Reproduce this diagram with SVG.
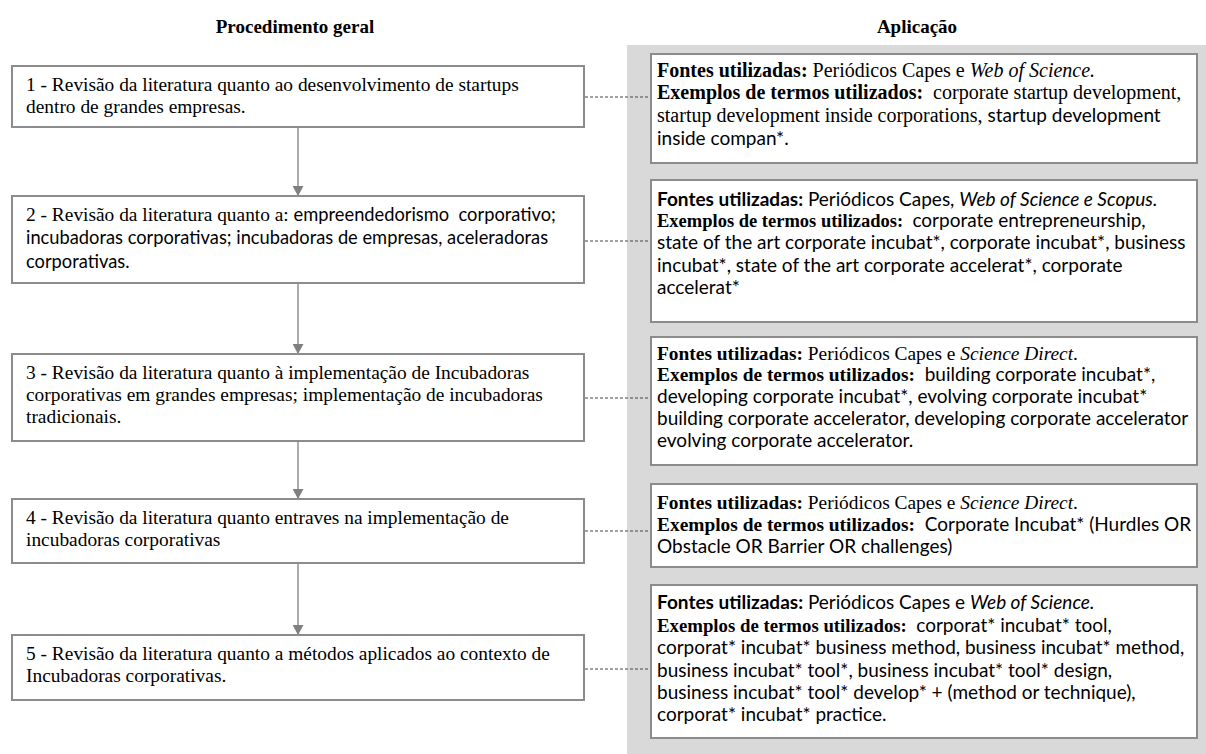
<svg xmlns="http://www.w3.org/2000/svg" width="1206" height="754" viewBox="0 0 1206 754">
<defs>
<style>
.bg{fill:#ffffff}
.panel{fill:#d9d9d9}
.box{fill:#ffffff;stroke:#8c8c8c;stroke-width:2}
.flow{stroke:#808080;stroke-width:1.3;fill:none}
.dash{stroke:#444444;stroke-width:1;stroke-dasharray:3 2;fill:none}
text{fill:#000000;font-size:19.4px;font-family:"Liberation Serif","Times New Roman",serif}
.title{font-weight:bold;font-size:19px;text-anchor:middle}
.r{font-size:20px}
.tb{font-weight:bold}
.ti{font-style:italic}
.c{font-family:Lato,"Liberation Sans",sans-serif;font-size:19px}
.cl{font-family:Lato,"Liberation Sans",sans-serif;font-size:18.3px}
.cb{font-family:Lato,"Liberation Sans",sans-serif;font-size:19px;font-weight:bold}
.ci{font-family:Lato,"Liberation Sans",sans-serif;font-size:19px;font-style:italic}
</style>
<marker id="tri" markerUnits="userSpaceOnUse" markerWidth="12" markerHeight="11" refX="11" refY="6" orient="auto" viewBox="0 0 12 12">
<path d="M0,0 L11,6 L0,12 Z" fill="#808080"/>
</marker>
</defs>
<rect class="bg" x="0" y="0" width="1206" height="754"/>
<text class="title" x="295" y="33">Procedimento geral</text>
<text class="title" x="917" y="33">Aplicação</text>
<rect class="panel" x="627" y="45" width="579" height="709"/>

<g id="connectors">
<line class="flow" x1="298" y1="127" x2="298" y2="196" marker-end="url(#tri)"/>
<line class="flow" x1="298" y1="283" x2="298" y2="354" marker-end="url(#tri)"/>
<line class="flow" x1="298" y1="441" x2="298" y2="499" marker-end="url(#tri)"/>
<line class="flow" x1="298" y1="563" x2="298" y2="635" marker-end="url(#tri)"/>
<line class="dash" x1="585" y1="97" x2="650" y2="97"/>
<line class="dash" x1="585" y1="241" x2="650" y2="241"/>
<line class="dash" x1="585" y1="398" x2="650" y2="398"/>
<line class="dash" x1="585" y1="531" x2="650" y2="531"/>
<line class="dash" x1="585" y1="669" x2="650" y2="669"/>
</g>

<g id="step1">
<rect class="box" x="12" y="66" width="572" height="61"/>
<text x="26" y="91">1 - Revisão da literatura quanto ao desenvolvimento de startups</text>
<text x="26" y="113">dentro de grandes empresas.</text>
</g>
<g id="step2">
<rect class="box" x="12" y="196" width="572" height="87"/>
<text x="26" y="221" xml:space="preserve">2 - Revisão da literatura quanto a: <tspan class="cl">empreendedorismo  corporativo;</tspan></text>
<text class="cl" x="26" y="244">incubadoras corporativas; incubadoras de empresas, aceleradoras</text>
<text class="cl" x="26" y="268">corporativas.</text>
</g>
<g id="step3">
<rect class="box" x="12" y="354" width="572" height="87"/>
<text x="26" y="379">3 - Revisão da literatura quanto à implementação de Incubadoras</text>
<text x="26" y="401">corporativas em grandes empresas; implementação de incubadoras</text>
<text x="26" y="423">tradicionais.</text>
</g>
<g id="step4">
<rect class="box" x="12" y="499" width="572" height="64"/>
<text x="26" y="524">4 - Revisão da literatura quanto entraves na implementação de</text>
<text x="26" y="546">incubadoras corporativas</text>
</g>
<g id="step5">
<rect class="box" x="12" y="635" width="572" height="65"/>
<text x="26" y="660">5 - Revisão da literatura quanto a métodos aplicados ao contexto de</text>
<text x="26" y="682">Incubadoras corporativas.</text>
</g>

<g id="app1">
<rect class="box" x="651" y="54" width="546" height="109"/>
<text class="r" x="657" y="77"><tspan class="tb">Fontes utilizadas:</tspan> Periódicos Capes e <tspan class="ti">Web of Science.</tspan></text>
<text class="r" x="657" y="99" xml:space="preserve"><tspan class="tb">Exemplos de termos utilizados:</tspan>  corporate startup development,</text>
<text class="r" x="657" y="122">startup development inside corporations, <tspan class="c">startup development</tspan></text>
<text class="c" x="657" y="145">inside compan*.</text>
</g>
<g id="app2">
<rect class="box" x="651" y="180" width="546" height="142"/>
<text class="c" x="657" y="206"><tspan class="cb">Fontes utilizadas:</tspan> Periódicos Capes, <tspan class="ci">Web of Science e Scopus.</tspan></text>
<text x="657" y="227" xml:space="preserve" style="font-size:18.5px"><tspan class="tb">Exemplos de termos utilizados:</tspan>  <tspan class="c">corporate entrepreneurship,</tspan></text>
<text class="c" x="657" y="249">state of the art corporate incubat*, corporate incubat*, business</text>
<text class="c" x="657" y="272">incubat*, state of the art corporate accelerat*, corporate</text>
<text class="c" x="657" y="294">accelerat*</text>
</g>
<g id="app3">
<rect class="box" x="651" y="337" width="546" height="128"/>
<text x="657" y="360"><tspan class="tb">Fontes utilizadas:</tspan> Periódicos Capes e <tspan class="ti">Science Direct</tspan>.</text>
<text x="657" y="381" xml:space="preserve"><tspan class="tb">Exemplos de termos utilizados:</tspan>  <tspan class="c">building corporate incubat*,</tspan></text>
<text class="c" x="657" y="403">developing corporate incubat*, evolving corporate incubat*</text>
<text class="c" x="657" y="425">building corporate accelerator, developing corporate accelerator</text>
<text class="c" x="657" y="447">evolving corporate accelerator.</text>
</g>
<g id="app4">
<rect class="box" x="651" y="484" width="546" height="83"/>
<text x="657" y="509"><tspan class="tb">Fontes utilizadas:</tspan> Periódicos Capes e <tspan class="ti">Science Direct</tspan>.</text>
<text x="657" y="531" xml:space="preserve"><tspan class="tb">Exemplos de termos utilizados:</tspan>  <tspan class="c">Corporate Incubat* (Hurdles OR</tspan></text>
<text class="c" x="657" y="553">Obstacle OR Barrier OR challenges)</text>
</g>
<g id="app5">
<rect class="box" x="651" y="585" width="546" height="153"/>
<text class="c" x="657" y="609"><tspan class="cb">Fontes utilizadas:</tspan> Periódicos Capes e <tspan class="ci">Web of Science.</tspan></text>
<text x="657" y="632" xml:space="preserve" style="font-size:18.8px"><tspan class="tb">Exemplos de termos utilizados:</tspan>  <tspan class="c">corporat* incubat* tool,</tspan></text>
<text class="c" x="657" y="654">corporat* incubat* business method, business incubat* method,</text>
<text class="c" x="657" y="677">business incubat* tool*, business incubat* tool* design,</text>
<text class="c" x="657" y="699">business incubat* tool* develop* + (method or technique),</text>
<text class="c" x="657" y="721">corporat* incubat* practice.</text>
</g>
</svg>
